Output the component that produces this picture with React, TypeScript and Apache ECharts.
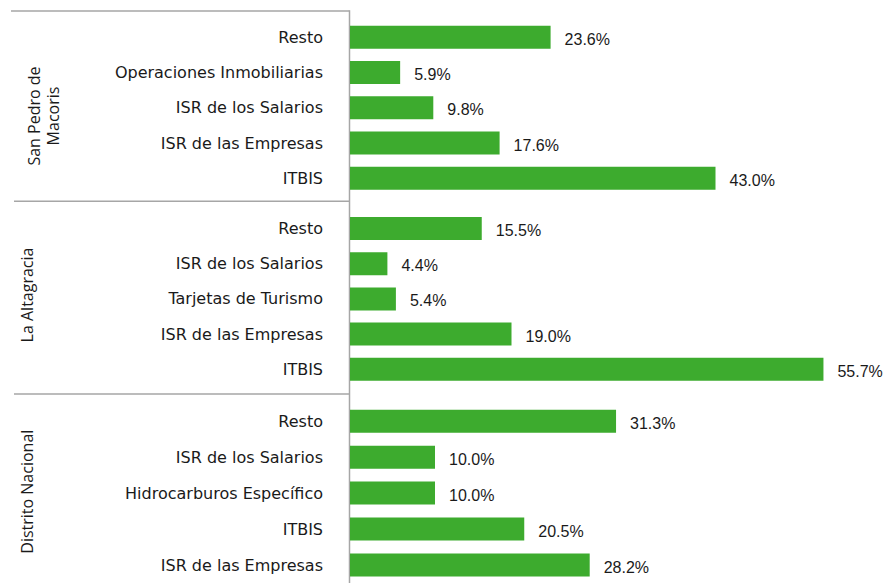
import React, { useEffect, useRef } from "react";
import * as echarts from "echarts";

const groupNames = ["San Pedro de\nMacoris", "La Altagracia", "Distrito Nacional"];

const spmCategories = ["Resto", "Operaciones Inmobiliarias", "ISR de los Salarios", "ISR de las Empresas", "ITBIS"];
const spmValues = [23.6, 5.9, 9.8, 17.6, 43.0];

const laCategories = ["Resto", "ISR de los Salarios", "Tarjetas de Turismo", "ISR de las Empresas", "ITBIS"];
const laValues = [15.5, 4.4, 5.4, 19.0, 55.7];

const dnCategories = ["Resto", "ISR de los Salarios", "Hidrocarburos Específico", "ITBIS", "ISR de las Empresas"];
const dnValues = [31.3, 10.0, 10.0, 20.5, 28.2];

const CAT_FONT = "DejaVu Sans";
const VAL_FONT = "Liberation Sans";
const GREEN = "#3dab2e";
const LINE = "#a6a6a6";

export default function App() {
  const ref = useRef<HTMLDivElement>(null);
  useEffect(() => {
    if (!ref.current) return;
    const chart = echarts.init(ref.current, null, { renderer: "svg" });
    const groups = [
      { cats: spmCategories, vals: spmValues, top: 19.7, height: 176.2 },
      { cats: laCategories, vals: laValues, top: 211, height: 175.8 },
      { cats: dnCategories, vals: dnValues, top: 403.2, height: 181 },
    ];
    const grids = groups.map((g) => ({ left: 350, width: 510, top: g.top, height: g.height }));
    const xAxes = groups.map((_, i) => ({
      type: "value",
      gridIndex: i,
      min: 0,
      max: 60,
      show: false,
    }));
    const yAxes = groups.map((g, i) => ({
      type: "category",
      gridIndex: i,
      data: g.cats,
      inverse: true,
      axisLine: { show: false },
      axisTick: { show: false },
      axisLabel: { color: "#1a1a1a", fontFamily: CAT_FONT, fontSize: 16, margin: 27 },
    }));
    const series = groups.map((g, i) => ({
      type: "bar",
      xAxisIndex: i,
      yAxisIndex: i,
      data: g.vals,
      barWidth: 23,
      itemStyle: { color: GREEN },
      label: {
        show: true,
        position: "right",
        distance: 14,
        offset: [0, 2],
        color: "#1a1a1a",
        fontFamily: VAL_FONT,
        fontSize: 16,
        formatter: (p: any) => `${Number(p.value).toFixed(1)}%`,
      },
    }));
    const lineStyle = { stroke: LINE, lineWidth: 1.5 };
    const labelCenters = [
      { x: 43, y: 116 },
      { x: 27, y: 295 },
      { x: 27, y: 491.7 },
    ];
    chart.setOption({
      animation: false,
      grid: grids,
      xAxis: xAxes,
      yAxis: yAxes,
      series,
      graphic: [
        { type: "line", shape: { x1: 11, y1: 11, x2: 349.5, y2: 11 }, style: lineStyle },
        { type: "line", shape: { x1: 14, y1: 201.3, x2: 349.5, y2: 201.3 }, style: lineStyle },
        { type: "line", shape: { x1: 14, y1: 394, x2: 349.5, y2: 394 }, style: lineStyle },
        { type: "line", shape: { x1: 349.5, y1: 10.3, x2: 349.5, y2: 583 }, style: lineStyle },
        ...groupNames.map((name, i) => ({
          type: "text",
          x: labelCenters[i].x,
          y: labelCenters[i].y,
          rotation: Math.PI / 2,
          style: {
            text: name,
            fill: "#1a1a1a",
            font: `16px "Open Sans"`,
            align: "center",
            verticalAlign: "middle",
            lineHeight: 19,
          },
        })),
      ],
    });
    return () => chart.dispose();
  }, []);
  return (
    <div
      ref={ref}
      style={{ position: "fixed", left: 0, top: 0, width: 892, height: 583, background: "#fff" }}
    />
  );
}
